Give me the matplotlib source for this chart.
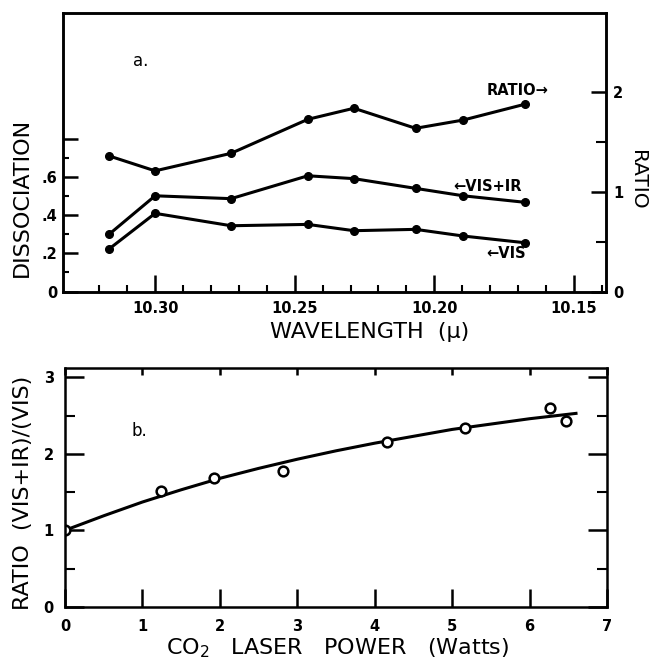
import matplotlib
matplotlib.use("Agg")
import matplotlib.pyplot as plt
from matplotlib.ticker import FixedLocator

plt.rcParams['font.family'] = ['DejaVu Sans']

# ---- Panel a data ----
wavelength = [10.3165, 10.300, 10.2728, 10.2453, 10.2288, 10.2067, 10.1896, 10.1676]
vis_ir = [0.300, 0.502, 0.487, 0.607, 0.592, 0.541, 0.502, 0.468]
vis = [0.223, 0.410, 0.345, 0.352, 0.319, 0.326, 0.291, 0.256]
ratio = [1.36, 1.21, 1.386, 1.727, 1.838, 1.637, 1.720, 1.878]

# ---- Panel b data ----
power = [0.0, 1.24, 1.93, 2.82, 4.16, 5.17, 6.27, 6.47]
power_ratio = [1.00, 1.51, 1.68, 1.78, 2.16, 2.34, 2.60, 2.43]
fit_power = [0.0, 0.5, 1.0, 1.5, 2.0, 2.5, 3.0, 3.5, 4.0, 4.5, 5.0, 5.5, 6.0, 6.6]
fit_ratio = [1.00, 1.19, 1.37, 1.53, 1.68, 1.81, 1.93, 2.04, 2.14, 2.23, 2.32, 2.39, 2.46, 2.53]

fig = plt.figure(figsize=(6.5, 6.63), dpi=100)

LW = 2.2
SP = 1.8
tickfont = dict(fontsize=10.5, fontweight='bold')

# ================= Panel a =================
ax = fig.add_axes([0.0969, 0.5603, 0.8354, 0.4196])
ax2 = ax.twinx()
for s in list(ax.spines.values()) + list(ax2.spines.values()):
    s.set_linewidth(SP)

ax.plot(wavelength, vis_ir, '-o', color='k', lw=LW, ms=5.5)
ax.plot(wavelength, vis, '-o', color='k', lw=LW, ms=5.5)
ax2.plot(wavelength, ratio, '-o', color='k', lw=LW, ms=5.5)

ax.set_xlim(10.333, 10.1385)
ax.set_ylim(0, 1.459)
ax2.set_ylim(0, 2.79)

ax.xaxis.set_major_locator(FixedLocator([10.30, 10.25, 10.20, 10.15]))
ax.xaxis.set_minor_locator(FixedLocator([10.32, 10.31, 10.29, 10.28, 10.27, 10.26,
                                         10.24, 10.23, 10.22, 10.21, 10.19, 10.18,
                                         10.17, 10.16, 10.14]))
ax.set_xticklabels(['10.30', '10.25', '10.20', '10.15'], **tickfont)
ax.yaxis.set_major_locator(FixedLocator([0, 0.2, 0.4, 0.6, 0.8]))
ax.yaxis.set_minor_locator(FixedLocator([0.1, 0.3, 0.5, 0.7]))
ax.set_yticklabels(['0', '.2', '.4', '.6', ''], **tickfont)
ax.tick_params(axis='x', which='major', direction='in', length=12, width=1.8, pad=7, top=False)
ax.tick_params(axis='x', which='minor', direction='in', length=5, width=1.5, top=False)
ax.tick_params(axis='y', which='major', direction='in', length=11, width=1.8, pad=4, right=False)
ax.tick_params(axis='y', which='minor', direction='in', length=4, width=1.5, right=False)

ax2.yaxis.set_major_locator(FixedLocator([0, 1, 2]))
ax2.yaxis.set_minor_locator(FixedLocator([0.5, 1.5]))
ax2.set_yticklabels(['0', '1', '2'], **tickfont)
ax2.tick_params(axis='y', which='major', direction='in', length=11, width=1.8, pad=5)
ax2.tick_params(axis='y', which='minor', direction='in', length=7, width=1.5)

ax.text(0.144, 0.83, 'a.', transform=ax.transAxes, fontsize=12, ha='center', va='center')
ax.text(0.838, 0.724, 'RATIO\u2192', transform=ax.transAxes, fontsize=10.5,
        fontweight='bold', ha='center', va='center')
ax.text(0.782, 0.379, '\u2190VIS+IR', transform=ax.transAxes, fontsize=10.5,
        fontweight='bold', ha='center', va='center')
ax.text(0.816, 0.138, '\u2190VIS', transform=ax.transAxes, fontsize=10.5,
        fontweight='bold', ha='center', va='center')

fig.text(22 / 650, 1 - 197 / 663, 'DISSOCIATION', rotation=90, fontsize=16,
         ha='center', va='center')
fig.text(638 / 650, 1 - 180 / 663, 'RATIO', rotation=-90, fontsize=14.5,
         ha='center', va='center')
fig.text(370 / 650, 1 - 332 / 663, 'WAVELENGTH  (\u03bc)', fontsize=16,
         ha='center', va='center')

# ================= Panel b =================
bx = fig.add_axes([0.1, 0.0849, 0.8338, 0.3596])
for s in bx.spines.values():
    s.set_linewidth(SP)
bx.plot(fit_power, fit_ratio, '-', color='k', lw=LW)
bx.plot(power, power_ratio, 'o', mfc='white', mec='k', mew=1.8, ms=7)
bx.set_xlim(0, 7.0)
bx.set_ylim(0, 3.12)
bx.xaxis.set_major_locator(FixedLocator([0, 1, 2, 3, 4, 5, 6, 7]))
bx.set_xticklabels(['0', '1', '2', '3', '4', '5', '6', '7'], **tickfont)
bx.yaxis.set_major_locator(FixedLocator([0, 1, 2, 3]))
bx.yaxis.set_minor_locator(FixedLocator([0.5, 1.5, 2.5]))
bx.set_yticklabels(['0', '1', '2', '3'], **tickfont)
bx.tick_params(axis='x', which='major', direction='in', length=13, width=1.8, pad=9,
               top=True)
bx.tick_params(axis='y', which='major', direction='in', length=14, width=1.8, pad=8,
               right=True)
bx.tick_params(axis='y', which='minor', direction='in', length=7, width=1.5, right=True)
for t in bx.xaxis.get_major_ticks():
    t.tick2line.set_markersize(5)

bx.text(0.138, 0.737, 'b.', transform=bx.transAxes, fontsize=12, ha='center', va='center')

fig.text(23 / 650, 1 - 493 / 663, 'RATIO  (VIS+IR)/(VIS)', rotation=90, fontsize=16,
         ha='center', va='center')
fig.text(338 / 650, 1 - 648 / 663, 'CO$_2$   LASER   POWER   (Watts)', fontsize=16,
         ha='center', va='center')

fig.savefig('out.png', dpi=100)
